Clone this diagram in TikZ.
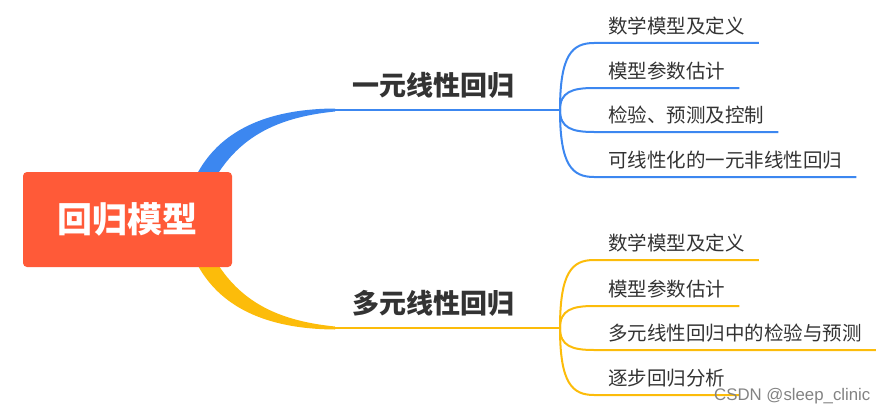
\documentclass[tikz,border=0pt]{standalone}
\usepackage{fontspec}
\setmainfont{Noto Sans CJK SC}
\newfontfamily\markfont{Liberation Sans}
\definecolor{rootred}{RGB}{255,90,56}
\definecolor{oneblue}{RGB}{60,135,240}
\definecolor{multiyellow}{RGB}{252,188,10}
\definecolor{labelgray}{RGB}{51,51,51}

\def\junctionx{560}
\def\taperx{335}

\begin{document}
\begin{tikzpicture}[x=1pt,y=-1pt]
\tikzstyle{root}=[rectangle,rounded corners=4pt,fill=rootred,text=white,minimum width=209pt,minimum height=95pt,inner sep=0pt,font=\fontsize{35}{35}\selectfont\bfseries]
\tikzstyle{branch label}=[anchor=base west,inner sep=0pt,text=labelgray,font=\fontsize{27}{27}\selectfont\bfseries]
\tikzstyle{leaf}=[anchor=south west,inner xsep=14pt,inner ysep=9.5pt,text depth=0pt,text=labelgray,font=\fontsize{19.5}{19.5}\selectfont]
\tikzstyle{main line}=[line width=2.6pt]
\tikzstyle{leaf line}=[line width=2pt]

\useasboundingbox (0,0) rectangle (886,412);

% Junctions of the two branches
\coordinate (J1) at (\junctionx,110);
\coordinate (J2) at (\junctionx,328);
\coordinate (B1) at (\taperx,110);
\coordinate (B2) at (\taperx,328);

% Tapered branches out of the root
\fill[oneblue] (194,180) .. controls (215,135) and (260,109) .. (\taperx,108.5)
  -- (\taperx,111.5) .. controls (280,117) and (240,135) .. (214,180) -- cycle;
\fill[multiyellow] (194,258) .. controls (215,303) and (260,329) .. (\taperx,329.5)
  -- (\taperx,326.5) .. controls (280,321) and (240,303) .. (214,258) -- cycle;
\draw[main line,oneblue] (B1) -- (J1);
\draw[main line,multiyellow] (B2) -- (J2);

% Root node
\node[root] (R) at (127.5,219.5) {回归模型};

% Branch labels
\node[branch label] (L1) at (352,95.3) {一元线性回归};
\node[branch label] (L2) at (352,313.3) {多元线性回归};

% Leaves of the first branch
\foreach \name/\y/\txt in {1/43/数学模型及定义, 2/88/模型参数估计, 3/132/检验、预测及控制, 4/177/可线性化的一元非线性回归}
{
\node[leaf] (A-\name) at (594,\y) {\txt};
\draw[leaf line,oneblue] (J1) .. controls (\junctionx,{\y-0.18*(\y-110)}) and (572,\y) .. (A-\name.south west) -- (A-\name.south east);
}

% Leaves of the second branch
\foreach \name/\y/\txt in {1/260/数学模型及定义, 2/306/模型参数估计, 3/350/多元线性回归中的检验与预测, 4/395/逐步回归分析}
{
\node[leaf] (M-\name) at (594,\y) {\txt};
\draw[leaf line,multiyellow] (J2) .. controls (\junctionx,{\y-0.18*(\y-328)}) and (572,\y) .. (M-\name.south west) -- (M-\name.south east);
}

% Watermark
\node[anchor=base west,inner sep=0pt,text={rgb,255:red,130;green,130;blue,130},font=\markfont\fontsize{16.8}{17}\selectfont] (W) at (714,400) {CSDN @sleep\_clinic};

\end{tikzpicture}
\end{document}
